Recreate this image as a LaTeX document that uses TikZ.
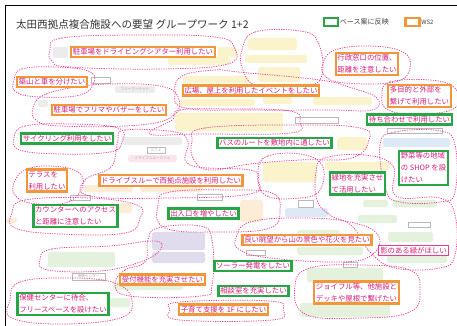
\documentclass[tikz,border=0pt]{standalone}
\usepackage{fontspec}
\newfontfamily\jpfont{Noto Sans CJK JP}
\usetikzlibrary{positioning}
\definecolor{basegreen}{RGB}{40,166,70}
\definecolor{wsorange}{RGB}{243,150,55}
\definecolor{wishpink}{RGB}{212,30,122}
\definecolor{dashpink}{RGB}{232,60,145}
\definecolor{noteyellow}{RGB}{251,243,204}
\definecolor{notebeige}{RGB}{253,236,214}
\definecolor{notegray}{RGB}{236,236,236}
\definecolor{notepink}{RGB}{251,229,238}
\definecolor{notepurple}{RGB}{224,220,238}
\definecolor{noteblue}{RGB}{222,233,246}
\definecolor{notegreen}{RGB}{228,241,221}

\begin{document}
\begin{tikzpicture}[x=0.5mm, y=-0.5mm, font=\jpfont,
  want/.style={line width=3.4pt, fill=white, text=wishpink, inner xsep=2.5pt, inner ysep=2.5pt, align=left, font=\jpfont\fontsize{10.5}{17}\selectfont},
  base/.style={want, draw=basegreen},
  ws/.style={want, draw=wsorange},
  blob/.style={draw=dashpink, line width=1.05pt, dash pattern=on 1.7pt off 1.7pt},
  note/.style={rounded corners=2.5pt},
  tag/.style={draw=gray!55, fill=white, line width=0.6pt},
  small/.style={text=gray!70, font=\jpfont\fontsize{5}{6}\selectfont, inner sep=0pt},
  keybox/.style={line width=3pt, minimum width=20pt, minimum height=12pt, inner sep=0pt},
  legend/.style={text=black!75, font=\jpfont\fontsize{10}{12}\selectfont, inner sep=1pt}]
  \useasboundingbox (0,0) rectangle (457,326);
  \fill[white] (0,0) rectangle (457,326);
  \draw[line width=1.4pt] (5,326) -- (5,5) -- (457,5);

  % faint sticky notes
  \foreach \xa/\ya/\xb/\yb in {168/57/230/65, 218/47/237/57, 248/38/297/50, 245/55/307/63, 258/67/300/82, 183/76/250/83, 180/99/255/106, 263/97/292/104, 313/97/372/105, 175/113/283/131, 337/137/367/150, 263/162/317/182, 325/162/390/170}
    \fill[note, fill=noteyellow] (\xa,\ya) rectangle (\xb,\yb);
  \foreach \xa/\ya/\xb/\yb in {83/185/133/192, 140/185/203/192, 240/200/263/222, 118/203/132/213, 6/218/17/223}
    \fill[note, fill=notebeige] (\xa,\ya) rectangle (\xb,\yb);
  \foreach \xa/\ya/\xb/\yb in {115/86/155/93, 122/137/182/145, 53/47/68/58, 38/100/48/107}
    \fill[note, fill=notegray] (\xa,\ya) rectangle (\xb,\yb);
  \foreach \xa/\ya/\xb/\yb in {152/232/205/250, 152/252/205/263}
    \fill[note, fill=notepurple] (\xa,\ya) rectangle (\xb,\yb);
  \foreach \xa/\ya/\xb/\yb in {285/208/328/217, 383/138/450/147}
    \fill[note, fill=noteblue] (\xa,\ya) rectangle (\xb,\yb);
  \foreach \xa/\ya/\xb/\yb in {48/252/115/267, 363/200/388/207, 393/200/437/207, 358/215/397/223, 388/232/433/242, 387/255/447/263, 297/230/340/237, 297/247/363/255, 307/268/383/282, 300/303/390/317, 113/283/183/290, 110/298/130/307}
    \fill[note, fill=notegreen] (\xa,\ya) rectangle (\xb,\yb);
  \fill[note, fill=notepink] (128,155) rectangle (177,162);
  \foreach \xa/\ya/\xb/\yb in {72/273/105/280, 147/147/165/153, 91/77/110/83, 295/117/338/123, 387/128/442/133, 70/195/90/200, 197/194/222/200, 298/200/313/207, 246/250/265/255, 343/262/357/267, 408/222/430/227}
    \draw[tag] (\xa,\ya) rectangle (\xb,\yb);
  \node[small] (flea) at (135,89.5) {フリーマーケット};
  \node[small] (cafe) at (156,150) {カフェ};
  \node[small] (dtcafe) at (152.5,158.5) {ドライブスルーカフェ};
  \node[small] (health) at (88.5,276.5) {保健センター};

  % dashed groups
  \draw[blob] plot[smooth cycle, tension=0.7] coordinates {(50,50) (62,38) (140,35) (215,37) (234,47) (228,64) (160,69) (70,67) (52,61)};
  \draw[blob] plot[smooth cycle, tension=0.7] coordinates {(14,80) (22,69) (55,67) (88,71) (94,82) (80,95) (40,97) (16,92)};
  \draw[blob] plot[smooth cycle, tension=0.7] coordinates {(33,108) (42,96) (70,88) (110,84) (160,86) (178,97) (174,115) (140,125) (60,126) (36,120)};
  \draw[blob] plot[smooth cycle, tension=0.7] coordinates {(242,50) (255,32) (300,31) (318,42) (322,75) (305,86) (258,86) (243,70)};
  \draw[blob] plot[smooth cycle, tension=0.7] coordinates {(175,92) (182,76) (215,70) (238,72) (320,80) (352,88) (377,98) (372,110) (330,110) (250,110) (185,108)};
  \draw[blob] plot[smooth cycle, tension=0.7] coordinates {(323,63) (335,50) (370,46) (403,52) (410,68) (395,82) (345,83) (325,76)};
  \draw[blob] plot[smooth cycle, tension=0.7] coordinates {(382,95) (390,82) (430,80) (455,88) (455,108) (420,114) (388,110)};
  \draw[blob] plot[smooth cycle, tension=0.7] coordinates {(172,120) (180,110) (230,109) (290,111) (300,122) (290,133) (200,134) (150,134)};
  \draw[blob] plot[smooth cycle, tension=0.7] coordinates {(14,138) (25,126) (70,124) (118,128) (122,142) (110,152) (60,154) (20,150)};
  \draw[blob] plot[smooth cycle, tension=0.7] coordinates {(14,183) (25,170) (50,166) (78,172) (82,188) (65,203) (30,203) (15,195)};
  \draw[blob] plot[smooth cycle, tension=0.7] coordinates {(118,140) (125,130) (175,132) (188,142) (190,165) (250,170) (258,180) (250,194) (170,198) (90,196) (85,180) (110,168) (116,152)};
  \draw[blob] plot[smooth cycle, tension=0.7] coordinates {(192,142) (205,128) (300,125) (360,128) (369,140) (352,158) (300,160) (250,164) (210,170) (194,160)};
  \draw[blob] plot[smooth cycle, tension=0.7] coordinates {(380,145) (395,132) (440,131) (455,145) (455,192) (440,202) (400,202) (386,190)};
  \draw[blob] plot[smooth cycle, tension=0.7] coordinates {(258,170) (268,156) (300,154) (322,165) (320,190) (300,198) (265,195)};
  \draw[blob] plot[smooth cycle, tension=0.7] coordinates {(316,172) (325,158) (365,155) (393,166) (396,196) (440,198) (455,215) (455,255) (440,268) (395,268) (370,252) (352,226) (330,215) (317,200)};
  \draw[blob] plot[smooth cycle, tension=0.7] coordinates {(12,213) (25,200) (90,198) (137,205) (140,218) (125,233) (60,234) (15,228)};
  \draw[blob] plot[smooth cycle, tension=0.7] coordinates {(158,205) (170,192) (230,190) (272,193) (280,210) (270,228) (220,232) (165,228)};
  \draw[blob] plot[smooth cycle, tension=0.7] coordinates {(40,260) (52,249) (110,246) (155,241) (160,250) (140,262) (100,271) (48,270)};
  \draw[blob] plot[smooth cycle, tension=0.7] coordinates {(115,284) (125,270) (145,262) (148,240) (158,228) (200,226) (212,240) (212,285) (200,296) (130,296)};
  \draw[blob] plot[smooth cycle, tension=0.7] coordinates {(236,238) (250,222) (300,218) (350,222) (378,235) (372,255) (340,262) (270,258) (240,250)};
  \draw[blob] plot[smooth cycle, tension=0.7] coordinates {(295,285) (310,268) (360,265) (410,270) (420,290) (410,312) (360,318) (305,314)};
  \draw[blob] plot[smooth cycle, tension=0.7] coordinates {(10,300) (20,282) (70,278) (115,283) (132,300) (120,318) (60,324) (12,318)};
  \draw[blob] plot[smooth cycle, tension=0.7] coordinates {(170,310) (180,302) (270,301) (283,310) (272,320) (180,320)};

  % title and legend
  \node[anchor=west, text=black!80, font=\jpfont\fontsize{15}{18}\selectfont, inner sep=0pt] (title) at (16,24) {太田西拠点複合施設への要望\ グループワーク 1+2};
  \node[keybox, draw=basegreen, label={[legend]right:ベース案に反映}] (keybase) at (331,22) {};
  \node[keybox, draw=wsorange, label={[legend, font=\jpfont\fontsize{8.5}{10}\selectfont]right:WS2}] (keyws) at (412.5,22) {};

  % wishes
  \node[ws] (theater) at (143,52) {駐車場をドライビングシアター利用したい};
  \node[ws] (hill) at (52,82) {築山と車を分けたい};
  \node[ws] (market) at (109,110) {駐車場でフリマやバザーをしたい};
  \node[base] (cycling) at (67,138.5) {サイクリング利用をしたい};
  \node[ws] (terrace) at (47,180.5) {テラスを\\利用したい};
  \node[ws] (drive) at (171,180.5) {ドライブスルーで西拠点施設を利用したい};
  \node[base] (counter) at (75.5,216) {カウンターへのアクセス\\と距離に注意したい};
  \node[base] (gates) at (203.5,213.5) {出入口を増やしたい};
  \node[ws] (reception) at (162.5,279.5) {受付機能を充実させたい};
  \node[base] (waiting) at (63,304) {保健センターに待合、\\フリースペースを設けたい};
  \node[base] (solar) at (253,266) {ソーラー発電をしたい};
  \node[base] (consult) at (253.5,291) {相談室を充実したい};
  \node[ws] (childcare) at (223.5,309.5) {子育て支援を 1F にしたい};
  \node[ws] (view) at (307,240) {良い眺望から山の景色や花火を見たい};
  \node[want, draw=dashpink, line width=0.8pt] (shade) at (413.5,250.5) {影のある緑がほしい};
  \node[ws] (joyful) at (356.5,292.5) {ジョイフル等、他施設と\\デッキや屋根で繋げたい};
  \node[base] (shop) at (423.5,168) {野菜等の地域\\の SHOP を設\\けたい};
  \node[base] (green) at (357.5,183.5) {緑地を充実させ\\て活用したい};
  \node[base] (meeting) at (409.5,119.5) {待ち合わせで利用したい};
  \node[base] (bus) at (274.5,143) {バスのルートを敷地内に通したい};
  \node[ws] (plaza) at (251,90.5) {広場、屋上を利用したイベントをしたい};
  \node[ws] (office) at (367,64) {行政窓口の位置、\\距離を注意したい};
  \node[ws] (multi) at (419.5,96) {多目的と外部を\\繋げて利用したい};
\end{tikzpicture}
\end{document}
